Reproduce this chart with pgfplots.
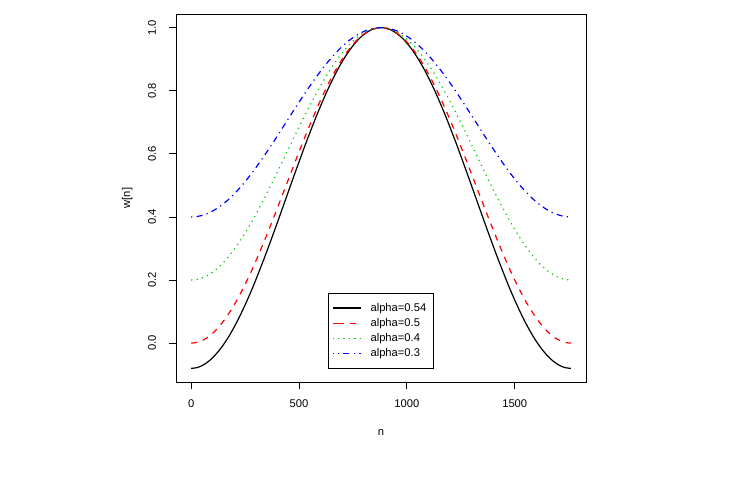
\documentclass[border=0pt]{standalone}
\usepackage{pgfplots}
\pgfplotsset{compat=1.18}
\usepackage{fontspec}
\setmainfont{Liberation Sans}
\definecolor{rgreen}{RGB}{0,205,0}
\definecolor{rred}{RGB}{255,0,0}
\definecolor{rblue}{RGB}{0,0,255}

% Generalised Hamming windows w[n] = 1 - alpha (1 + cos(2 pi n / N)), N = 1760
\pgfplotstableread{
n      a54     a50     a40     a30
0      -0.0800 0.0000  0.2000  0.4000
24.4   -0.0780 0.0019  0.2015  0.4011
48.9   -0.0718 0.0076  0.2061  0.4046
73.3   -0.0616 0.0170  0.2136  0.4102
97.8   -0.0474 0.0302  0.2241  0.4181
122.2  -0.0293 0.0468  0.2375  0.4281
146.7  -0.0077 0.0670  0.2536  0.4402
171.1  0.0175  0.0904  0.2723  0.4542
195.6  0.0463  0.1170  0.2936  0.4702
220.0  0.0781  0.1464  0.3172  0.4879
244.4  0.1129  0.1786  0.3429  0.5072
268.9  0.1503  0.2132  0.3706  0.5279
293.3  0.1900  0.2500  0.4000  0.5500
342.2  0.2753  0.3290  0.4632  0.5974
391.1  0.3662  0.4132  0.5305  0.6479
440.0  0.4600  0.5000  0.6000  0.7000
488.9  0.5538  0.5868  0.6695  0.7521
537.8  0.6447  0.6710  0.7368  0.8026
586.7  0.7300  0.7500  0.8000  0.8500
635.6  0.8071  0.8214  0.8571  0.8928
684.4  0.8737  0.8830  0.9064  0.9298
733.3  0.9277  0.9330  0.9464  0.9598
782.2  0.9674  0.9698  0.9759  0.9819
831.1  0.9918  0.9924  0.9939  0.9954
880.0  1.0000  1.0000  1.0000  1.0000
928.9  0.9918  0.9924  0.9939  0.9954
977.8  0.9674  0.9698  0.9759  0.9819
1026.7 0.9277  0.9330  0.9464  0.9598
1075.6 0.8737  0.8830  0.9064  0.9298
1124.4 0.8071  0.8214  0.8571  0.8928
1173.3 0.7300  0.7500  0.8000  0.8500
1222.2 0.6447  0.6710  0.7368  0.8026
1271.1 0.5538  0.5868  0.6695  0.7521
1320.0 0.4600  0.5000  0.6000  0.7000
1368.9 0.3662  0.4132  0.5305  0.6479
1417.8 0.2753  0.3290  0.4632  0.5974
1466.7 0.1900  0.2500  0.4000  0.5500
1491.1 0.1503  0.2132  0.3706  0.5279
1515.6 0.1129  0.1786  0.3429  0.5072
1540.0 0.0781  0.1464  0.3172  0.4879
1564.4 0.0463  0.1170  0.2936  0.4702
1588.9 0.0175  0.0904  0.2723  0.4542
1613.3 -0.0077 0.0670  0.2536  0.4402
1637.8 -0.0293 0.0468  0.2375  0.4281
1662.2 -0.0474 0.0302  0.2241  0.4181
1686.7 -0.0616 0.0170  0.2136  0.4102
1711.1 -0.0718 0.0076  0.2061  0.4046
1735.6 -0.0780 0.0019  0.2015  0.4011
1760.0 -0.0800 0.0000  0.2000  0.4000
}\windows

\begin{document}
\begin{tikzpicture}
\path[use as bounding box] (0pt,0pt) rectangle (550.5pt,358.5pt);
\begin{axis}[
  at={(132pt,72pt)}, anchor=south west,
  scale only axis,
  width=307.5pt, height=276pt,
  xmin=-70.4, xmax=1830.4,
  ymin=-0.1232, ymax=1.0432,
  axis line style={black, line width=0.6pt},
  xtick={0,500,1000,1500},
  ytick={0,0.2,0.4,0.6,0.8,1.0},
  yticklabels={0.0,0.2,0.4,0.6,0.8,1.0},
  xticklabels={0,500,1000,1500},
  tick align=outside,
  tick pos=left,
  major tick length=5.5pt,
  tick style={black, line width=0.6pt},
  ticklabel style={font=\fontsize{8.4}{10}\selectfont},
  xticklabel style={yshift=-4pt},
  yticklabel style={rotate=90, anchor=south, yshift=6pt},
  xlabel={n}, ylabel={w[n]},
  label style={font=\fontsize{8.4}{10}\selectfont},
  xlabel style={at={(axis description cs:0.5,0)}, anchor=center, yshift=-38pt},
  ylabel style={at={(axis description cs:0,0.5)}, anchor=center, yshift=36.5pt},
  legend cell align=left,
  legend style={at={(axis cs:634,0.158)}, anchor=north west,
    draw=black, line width=0.6pt, font=\fontsize{8.4}{10}\selectfont,
    inner xsep=3pt, inner ysep=5pt, row sep=-0.2pt},
  legend image code/.code={
    \path (0pt,0pt) -- (3.75pt,0pt);
    \draw[#1, line width=0.9pt] (3.75pt,0pt) -- (20.75pt,0pt);},
  clip=true,
]
\addplot[black, draw=black, line width=0.9pt, smooth] table[x=n, y=a54] {\windows};
\addlegendentry{\hspace{5pt}alpha=0.54\hspace{5pt}}
\addplot[rred, draw=rred, line width=0.9pt, smooth, dash pattern=on 4.5pt off 4.5pt] table[x=n, y=a50] {\windows};
\addlegendentry{\hspace{5pt}alpha=0.5}
\addplot[rgreen, draw=rgreen, line width=0.9pt, smooth, dash pattern=on 0.9pt off 3.2pt] table[x=n, y=a40] {\windows};
\addlegendentry{\hspace{5pt}alpha=0.4}
\addplot[rblue, draw=rblue, line width=0.9pt, smooth, dash pattern=on 0.9pt off 3.2pt on 4.5pt off 3.2pt] table[x=n, y=a30] {\windows};
\addlegendentry{\hspace{5pt}alpha=0.3}
\end{axis}
\end{tikzpicture}
\end{document}
